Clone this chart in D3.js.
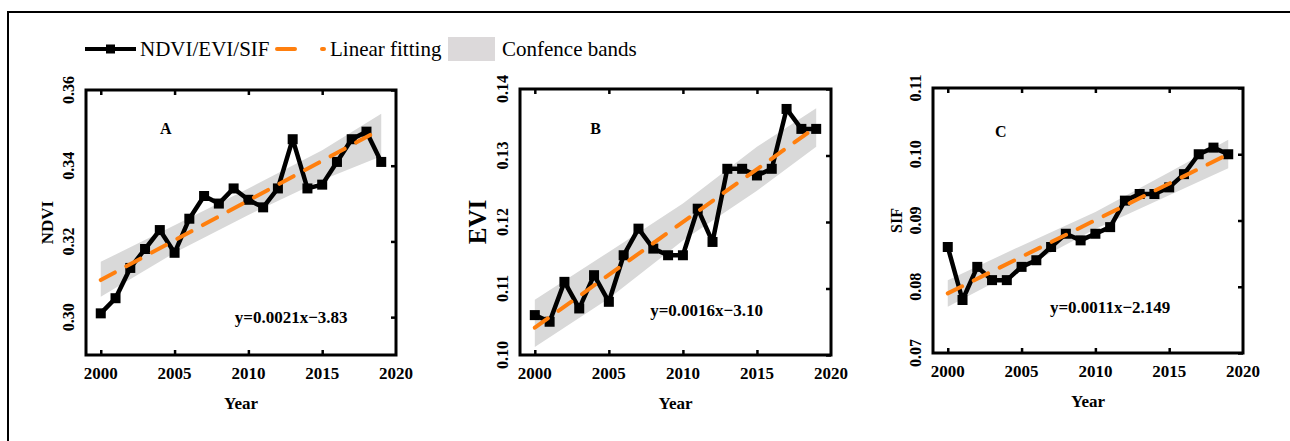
<!DOCTYPE html>
<html>
<head>
<meta charset="utf-8">
<script src="https://cdn.jsdelivr.net/npm/d3@7"></script>
<style>
body { margin: 0; background: #fff; }
svg { display: block; }
svg text { font-family: "Liberation Serif", "Times New Roman", serif; }
</style>
</head>
<body>
<div id="chart"></div>
<script>
// data
var years = [2000, 2001, 2002, 2003, 2004, 2005, 2006, 2007, 2008, 2009,
             2010, 2011, 2012, 2013, 2014, 2015, 2016, 2017, 2018, 2019];
var ndvi = [0.301, 0.305, 0.313, 0.318, 0.323, 0.317, 0.326, 0.332, 0.330, 0.334,
            0.331, 0.329, 0.334, 0.347, 0.334, 0.335, 0.341, 0.347, 0.349, 0.341];
var evi = [0.106, 0.105, 0.111, 0.107, 0.112, 0.108, 0.115, 0.119, 0.116, 0.115,
           0.115, 0.122, 0.117, 0.128, 0.128, 0.127, 0.128, 0.137, 0.134, 0.134];
var sif = [0.086, 0.078, 0.083, 0.081, 0.081, 0.083, 0.084, 0.086, 0.088, 0.087,
           0.088, 0.089, 0.093, 0.094, 0.094, 0.095, 0.097, 0.100, 0.101, 0.100];

// fitted line end points (2000, 2019)
var fitYears = [2000, 2019];
var ndviFit = [0.3098, 0.3497];
var eviFit = [0.1041, 0.1343];
var sifFit = [0.0790, 0.1000];

// confidence band edges
var bandYears = [2000, 2005, 2010, 2015, 2019];
var ndviLow = [0.3054, 0.3170, 0.3270, 0.3362, 0.3425];
var ndviHigh = [0.3146, 0.3243, 0.3340, 0.3441, 0.3537];
var eviLow = [0.1012, 0.1085, 0.1172, 0.1247, 0.1313];
var eviHigh = [0.1083, 0.1155, 0.1228, 0.1313, 0.1371];
var sifLow = [0.0770, 0.0828, 0.0887, 0.0938, 0.0979];
var sifHigh = [0.0810, 0.0862, 0.0913, 0.0973, 0.1022];

var xTicks = [2000, 2005, 2010, 2015, 2020];
var ndviTicks = [0.30, 0.32, 0.34, 0.36];
var eviTicks = [0.10, 0.11, 0.12, 0.13, 0.14];
var sifTicks = [0.07, 0.08, 0.09, 0.10, 0.11];

var serif = "'Liberation Serif', 'Times New Roman', serif";
var orange = "#ff7f0e";
var bandGray = "#d9d9d9";

var svg = d3.select("#chart")
    .append("svg")
    .attr("width", 1290)
    .attr("height", 441)
    .attr("font-family", serif);

// outer frame (only top and left visible)
svg.append("path")
    .attr("d", "M8,441 L8,12 L1290,12")
    .attr("fill", "none")
    .attr("stroke", "#000")
    .attr("stroke-width", 2);

// legend
var legend = svg.append("g").attr("transform", "translate(0,49)");
legend.append("line")
    .attr("x1", 85).attr("x2", 136)
    .attr("stroke", "#000").attr("stroke-width", 4);
legend.append("rect")
    .attr("x", 106).attr("y", -4.5).attr("width", 9).attr("height", 9)
    .attr("fill", "#000");
legend.append("text")
    .attr("x", 140).attr("y", 7)
    .style("font-size", "21px")
    .text("NDVI/EVI/SIF");
legend.append("line")
    .attr("x1", 277).attr("x2", 324)
    .attr("stroke", orange).attr("stroke-width", 4)
    .attr("stroke-linecap", "round")
    .attr("stroke-dasharray", "18,27");
legend.append("text")
    .attr("x", 330).attr("y", 7)
    .style("font-size", "21px")
    .text("Linear fitting");
legend.append("rect")
    .attr("x", 448).attr("y", -12).attr("width", 47).attr("height", 24)
    .attr("fill", "#dcd9da");
legend.append("text")
    .attr("x", 502).attr("y", 7)
    .style("font-size", "21px")
    .text("Confence bands");

function drawPanel(p) {
    var width = p.right - p.left;
    var height = p.bottom - p.top;
    var g = svg.append("g")
        .attr("transform", "translate(" + p.left + "," + p.top + ")");

    var x = d3.scaleLinear().domain([1999, 2020]).range([0, width]);
    var y = d3.scaleLinear().domain(p.domain).range([height, 0]);

    // confidence band
    var band = bandYears.map(function (yr, i) {
        return { year: yr, lo: p.low[i], hi: p.high[i] };
    });
    g.append("path")
        .datum(band)
        .attr("fill", bandGray)
        .attr("d", d3.area()
            .x(d => x(d.year))
            .y0(d => y(d.lo))
            .y1(d => y(d.hi)));

    // data line + squares
    var pts = years.map(function (yr, i) { return { year: yr, v: p.values[i] }; });
    g.append("path")
        .datum(pts)
        .attr("fill", "none")
        .attr("stroke", "#000")
        .attr("stroke-width", 4.5)
        .attr("stroke-linejoin", "round")
        .attr("d", d3.line().x(d => x(d.year)).y(d => y(d.v)));
    g.selectAll(".pt")
        .data(pts)
        .join("rect")
        .attr("class", "pt")
        .attr("x", d => x(d.year) - 5)
        .attr("y", d => y(d.v) - 5)
        .attr("width", 10)
        .attr("height", 10)
        .attr("fill", "#000");

    // fitted line
    var fit = fitYears.map(function (yr, i) { return { year: yr, v: p.fit[i] }; });
    g.append("path")
        .datum(fit)
        .attr("fill", "none")
        .attr("stroke", orange)
        .attr("stroke-width", 4)
        .attr("stroke-linecap", "round")
        .attr("stroke-dasharray", "16,13")
        .attr("d", d3.line().x(d => x(d.year)).y(d => y(d.v)));

    // axes: ticks inward on bottom, top and right, labels drawn separately
    var bottomAxis = d3.axisBottom(x).tickValues(xTicks.slice(0, 4)).tickSizeInner(-5).tickSizeOuter(0)
        .tickFormat("");
    g.append("g").attr("transform", "translate(0," + height + ")").call(bottomAxis);

    var topAxis = d3.axisTop(x).tickValues(xTicks.slice(0, 4)).tickSizeInner(-5).tickSizeOuter(0)
        .tickFormat("");
    g.append("g").call(topAxis);

    var rightAxis = d3.axisRight(y).tickValues(p.ticks).tickSizeInner(-5).tickSizeOuter(0)
        .tickFormat("");
    g.append("g").attr("transform", "translate(" + width + ",0)").call(rightAxis);

    g.selectAll(".domain").remove();
    g.selectAll(".tick line").attr("stroke", "#000").attr("stroke-width", 2.5);

    g.selectAll(".xlab")
        .data(xTicks)
        .join("text")
        .attr("class", "xlab")
        .attr("x", d => x(d))
        .attr("y", height + 24)
        .attr("text-anchor", "middle")
        .attr("font-family", serif)
        .style("font-size", "17px")
        .style("font-weight", "bold")
        .text(d3.format("d"));

    // y tick labels, rotated
    g.selectAll(".ylab")
        .data(p.ticks)
        .join("text")
        .attr("class", "ylab")
        .attr("transform", d => "translate(-12," + y(d) + ") rotate(-90)")
        .attr("text-anchor", "middle")
        .attr("font-family", serif)
        .style("font-size", "16px")
        .style("font-weight", "bold")
        .text(d3.format(".2f"));

    // frame
    g.append("rect")
        .attr("width", width)
        .attr("height", height)
        .attr("fill", "none")
        .attr("stroke", "#000")
        .attr("stroke-width", 3);

    // titles
    g.append("text")
        .attr("transform", "translate(" + p.titleX + "," + (height / 2) + ") rotate(-90)")
        .attr("text-anchor", "middle")
        .style("font-size", p.titleSize + "px")
        .style("font-weight", "bold")
        .text(p.title);
    g.append("text")
        .attr("x", width / 2)
        .attr("y", height + 54)
        .attr("text-anchor", "middle")
        .style("font-size", "17px")
        .style("font-weight", "bold")
        .text("Year");
    g.append("text")
        .attr("x", x(p.letterYear))
        .attr("y", p.letterY)
        .attr("text-anchor", "middle")
        .style("font-size", "16px")
        .style("font-weight", "bold")
        .text(p.letter);
    g.append("text")
        .attr("x", x(p.eqYear))
        .attr("y", p.eqY)
        .attr("text-anchor", "middle")
        .style("font-size", "17px")
        .style("font-weight", "bold")
        .text(p.equation);
}

drawPanel({
    left: 86, top: 90, right: 396, bottom: 355,
    domain: [0.29, 0.36], ticks: ndviTicks,
    values: ndvi, fit: ndviFit, low: ndviLow, high: ndviHigh,
    title: "NDVI", titleSize: 17, titleX: -33,
    letter: "A", letterYear: 2004.4, letterY: 44,
    equation: "y=0.0021x\u22123.83", eqYear: 2012.9, eqY: 233
});
drawPanel({
    left: 520, top: 89, right: 831, bottom: 355,
    domain: [0.10, 0.14], ticks: eviTicks,
    values: evi, fit: eviFit, low: eviLow, high: eviHigh,
    title: "EVI", titleSize: 25, titleX: -34,
    letter: "B", letterYear: 2004.1, letterY: 45,
    equation: "y=0.0016x\u22123.10", eqYear: 2011.6, eqY: 227
});
drawPanel({
    left: 933, top: 88, right: 1243, bottom: 353,
    domain: [0.07, 0.11], ticks: sifTicks,
    values: sif, fit: sifFit, low: sifLow, high: sifHigh,
    title: "SIF", titleSize: 16, titleX: -31,
    letter: "C", letterYear: 2003.6, letterY: 49,
    equation: "y=0.0011x\u22122.149", eqYear: 2011.0, eqY: 225
});
</script>
</body>
</html>
